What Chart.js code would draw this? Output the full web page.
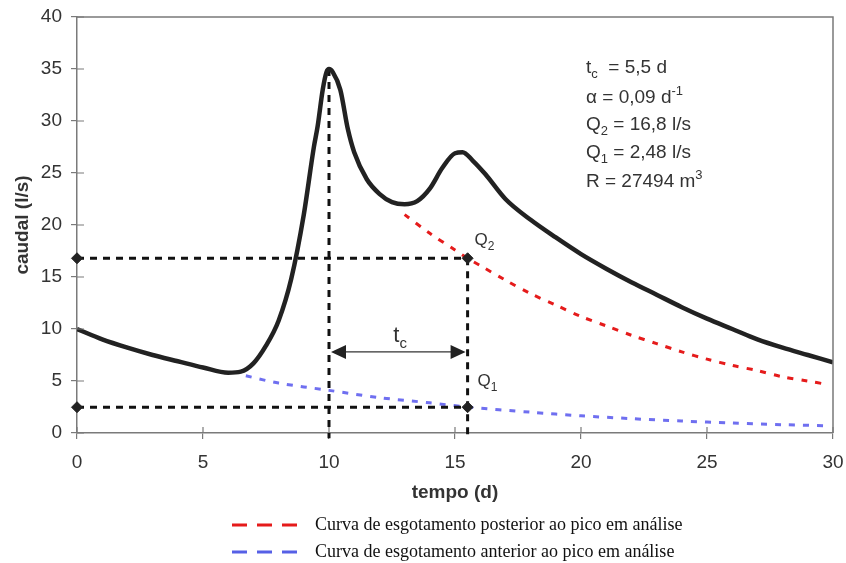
<!DOCTYPE html>
<html>
<head>
<meta charset="utf-8">
<script src="https://cdn.jsdelivr.net/npm/chart.js@4.4.0/dist/chart.umd.min.js"></script>
<style>
  html, body { margin: 0; padding: 0; background: #fff; }
  #wrap { width: 846px; height: 563px; position: relative; }
</style>
</head>
<body>
<div id="wrap"><canvas id="chart"></canvas></div>
<script>
const mainT = [0, 1, 2, 3, 4, 5, 6, 6.5, 7, 7.5, 8, 8.5, 9, 9.4, 9.55, 9.75, 9.9, 10, 10.15, 10.45, 10.75, 11, 11.5, 12, 12.5, 13, 13.5, 14, 14.5, 15, 15.3, 15.7, 16.2, 17, 18, 19, 20, 21, 22, 23, 24, 25, 26, 27, 28, 29, 30];
const mainQ = [10.0, 9.0, 8.2, 7.5, 6.9, 6.3, 5.8, 5.9, 6.7, 8.4, 10.8, 14.8, 21.0, 27.5, 29.5, 33.0, 34.7, 35.0, 34.7, 33.0, 29.2, 27.0, 24.4, 23.0, 22.2, 22.0, 22.3, 23.5, 25.5, 26.9, 27.0, 26.2, 24.9, 22.5, 20.5, 18.8, 17.2, 15.8, 14.5, 13.3, 12.1, 11.0, 10.0, 9.0, 8.2, 7.5, 6.8];

// recession after the peak (red)
const postT = [13, 14, 15, 15.5, 16, 17, 18, 19, 20, 21, 22, 23, 24, 25, 26, 27, 28, 29, 29.7];
const postQ = [21.0, 19.2, 17.6, 16.8, 16.1, 14.7, 13.4, 12.3, 11.2, 10.3, 9.4, 8.6, 7.8, 7.1, 6.5, 6.0, 5.4, 5.0, 4.7];

// recession before the peak (blue)
const anteT = [6.7, 8, 10, 12, 14, 15.5, 18, 20, 22, 24, 26, 28, 29.7];
const anteQ = [5.5, 4.8, 4.1, 3.4, 2.9, 2.5, 2.0, 1.65, 1.38, 1.15, 0.96, 0.8, 0.7];

// construction values
const tPeak = 10;
const tEnd = 15.5;
const peakQ = 35;
const Q2 = 16.8;
const Q1 = 2.48;
const arrowQ = 7.8;
const belowAxis = -0.5;

const xTicks = [0, 5, 10, 15, 20, 25, 30];
const yTicks = [0, 5, 10, 15, 20, 25, 30, 35, 40];

const infoLines = [
    [['t'], ['c', 'sub'], ['  = 5,5 d']],
    [['\u03b1 = 0,09 d'], ['-1', 'sup']],
    [['Q'], ['2', 'sub'], [' = 16,8 l/s']],
    [['Q'], ['1', 'sub'], [' = 2,48 l/s']],
    [['R = 27494 m'], ['3', 'sup']],
];
const legendItems = [
    { text: 'Curva de esgotamento posterior ao pico em an\u00e1lise', color: '#e51b1b' },
    { text: 'Curva de esgotamento anterior ao pico em an\u00e1lise', color: '#5660e6' },
];

const pts = (xs, ys) => xs.map((x, i) => ({ x, y: ys[i] }));

const FONT = "Arial, 'Liberation Sans', sans-serif";
const AXIS_GREY = '#7a7a7a';
const TEXT = '#333';

// draws a run of text with sub/superscripts, returns end x
function drawRich(ctx, parts, x, y, size) {
    parts.forEach(([t, mode]) => {
        const s = mode ? Math.round(size * 0.68) : size;
        const dy = mode === 'sub' ? size * 0.28 : mode === 'sup' ? -size * 0.42 : 0;
        ctx.font = `${s}px ${FONT}`;
        ctx.fillText(t, x, y + dy);
        x += ctx.measureText(t).width;
    });
    return x;
}

const decorations = {
    id: 'decorations',
    afterDraw(chart) {
        const { ctx, chartArea: a, scales: { x, y } } = chart;
        ctx.save();

        // frame on top and right
        ctx.strokeStyle = AXIS_GREY;
        ctx.lineWidth = 1.5;
        ctx.beginPath();
        ctx.moveTo(a.left, a.top);
        ctx.lineTo(a.right, a.top);
        ctx.lineTo(a.right, a.bottom);
        ctx.stroke();

        // inner halves of tick marks
        ctx.lineWidth = 1.2;
        ctx.beginPath();
        yTicks.forEach(v => {
            const py = y.getPixelForValue(v);
            ctx.moveTo(a.left, py); ctx.lineTo(a.left + 7, py);
        });
        xTicks.forEach(v => {
            const px = x.getPixelForValue(v);
            ctx.moveTo(px, a.bottom); ctx.lineTo(px, a.bottom - 6);
        });
        ctx.stroke();

        // t_c double arrow
        const ax1 = x.getPixelForValue(tPeak), ax2 = x.getPixelForValue(tEnd);
        const ay = y.getPixelForValue(arrowQ);
        ctx.strokeStyle = '#333';
        ctx.fillStyle = '#222';
        ctx.lineWidth = 1.3;
        ctx.beginPath();
        ctx.moveTo(ax1 + 10, ay); ctx.lineTo(ax2 - 10, ay);
        ctx.stroke();
        ctx.beginPath();
        ctx.moveTo(ax1 + 2, ay); ctx.lineTo(ax1 + 17, ay - 7); ctx.lineTo(ax1 + 17, ay + 7); ctx.closePath();
        ctx.moveTo(ax2 - 2, ay); ctx.lineTo(ax2 - 17, ay - 7); ctx.lineTo(ax2 - 17, ay + 7); ctx.closePath();
        ctx.fill();

        // labels inside the plot
        ctx.fillStyle = TEXT;
        ctx.textBaseline = 'alphabetic';
        ctx.textAlign = 'left';
        drawRich(ctx, [['t'], ['c', 'sub']], (ax1 + ax2) / 2 - 5, ay - 10, 22);
        drawRich(ctx, [['Q'], ['2', 'sub']], ax2 + 7, y.getPixelForValue(Q2) - 13, 17);
        drawRich(ctx, [['Q'], ['1', 'sub']], ax2 + 10, y.getPixelForValue(Q1) - 21, 17);

        // parameter block
        const baselines = [73, 103, 130, 158, 187];
        infoLines.forEach((line, i) => drawRich(ctx, line, 586, baselines[i], 19));

        // legend below the axis title
        legendItems.forEach((item, i) => {
            const ly = 525 + i * 27;
            ctx.strokeStyle = item.color;
            ctx.lineWidth = 3;
            ctx.setLineDash([15, 10]);
            ctx.beginPath();
            ctx.moveTo(232, ly); ctx.lineTo(298, ly);
            ctx.stroke();
            ctx.setLineDash([]);
            ctx.fillStyle = '#111';
            ctx.font = "18px 'Liberation Serif', 'Times New Roman', serif";
            ctx.textBaseline = 'middle';
            ctx.fillText(item.text, 315, ly);
        });
        ctx.restore();
    }
};

const dotted = { borderColor: '#111', borderWidth: 3, borderDash: [7, 6], pointRadius: 0, fill: false, clip: false };

new Chart(document.getElementById('chart'), {
    type: 'line',
    data: {
        datasets: [
            { data: pts(mainT, mainQ), borderColor: '#222', borderWidth: 4.5, pointRadius: 0, cubicInterpolationMode: 'monotone', fill: false },
            { data: [{ x: 0, y: Q2 }, { x: tEnd, y: Q2 }, { x: 0, y: Q1 }, { x: tEnd, y: Q1 }], showLine: false, pointStyle: 'rectRot', pointRadius: 5.5, pointBackgroundColor: '#222', pointBorderColor: '#222', clip: false },
            { ...dotted, data: [{ x: 0, y: Q2 }, { x: tEnd, y: Q2 }] },
            { ...dotted, data: [{ x: 0, y: Q1 }, { x: tEnd, y: Q1 }] },
            { ...dotted, data: [{ x: tPeak, y: peakQ }, { x: tPeak, y: belowAxis }] },
            { ...dotted, data: [{ x: tEnd, y: Q2 }, { x: tEnd, y: belowAxis }] },
            { data: pts(postT, postQ), borderColor: '#e51b1b', borderWidth: 3, borderDash: [6, 8], pointRadius: 0, tension: 0.3, fill: false },
            { data: pts(anteT, anteQ), borderColor: '#6f6ff0', borderWidth: 3, borderDash: [6, 8], pointRadius: 0, tension: 0.3, fill: false },
        ]
    },
    options: {
        responsive: true,
        maintainAspectRatio: false,
        animation: false,
        events: [],
        layout: { padding: { top: 17, right: 13, left: 0, bottom: 0 } },
        plugins: { legend: { display: false }, tooltip: { enabled: false } },
        scales: {
            x: {
                type: 'linear', min: 0, max: 30,
                afterFit: s => { s.height = 130; s.paddingLeft = 0; s.paddingRight = 0; },
                afterBuildTicks: s => { s.ticks = xTicks.map(v => ({ value: v })); },
                grid: { drawOnChartArea: false, drawTicks: true, tickLength: 6, color: AXIS_GREY, lineWidth: 1.2 },
                border: { color: AXIS_GREY, width: 1.5 },
                ticks: { color: TEXT, font: { family: FONT, size: 19 }, padding: 12, maxRotation: 0 },
                title: { display: true, text: 'tempo (d)', color: TEXT, font: { family: FONT, size: 19, weight: 'bold' }, padding: { top: 0, bottom: 59 } }
            },
            y: {
                min: 0, max: 40,
                afterFit: s => { s.width = 77; s.paddingTop = 0; s.paddingBottom = 0; },
                afterBuildTicks: s => { s.ticks = yTicks.map(v => ({ value: v })); },
                grid: { drawOnChartArea: false, drawTicks: true, tickLength: 6, color: AXIS_GREY, lineWidth: 1.2 },
                border: { color: AXIS_GREY, width: 1.5 },
                ticks: { color: TEXT, font: { family: FONT, size: 19 }, padding: 9 },
                title: { display: true, text: 'caudal (l/s)', color: TEXT, font: { family: FONT, size: 19, weight: 'bold' }, padding: { top: 11, bottom: 0 } }
            }
        }
    },
    plugins: [decorations]
});
</script>
</body>
</html>
